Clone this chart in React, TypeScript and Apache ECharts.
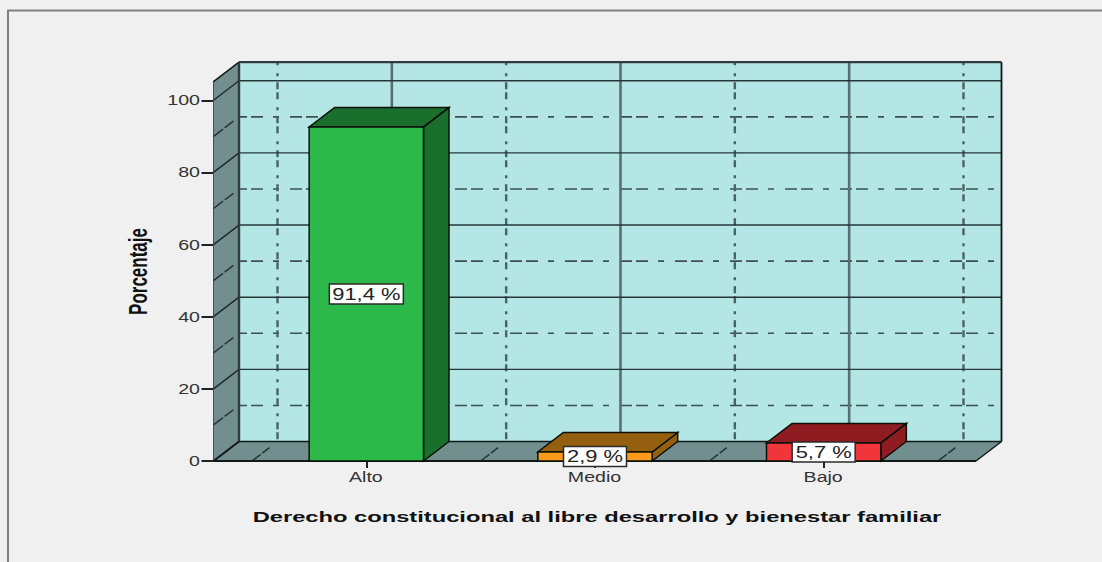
import React, { useEffect, useRef } from "react";
import * as echarts from "echarts";

const categories = ["Alto", "Medio", "Bajo"];
// Percentages printed on the bars
const barLabels = ["91,4 %", "2,9 %", "5,7 %"];
// Bar heights as drawn against the axis in the picture
const barHeights = [92.6, 2.5, 5.0];
const frontColors = ["#2db84a", "#fb9a1b", "#f0353b"];
const topColors = ["#1b6f2d", "#94600f", "#8f1c20"];
const majorTicks = [0, 20, 40, 60, 80, 100];
const minorTicks = [10, 30, 50, 70, 90];
const yTitle = "Porcentaje";
const xTitle = "Derecho constitucional al libre desarrollo y bienestar familiar";

const FONT = "'Liberation Sans', Arial, sans-serif";
const DX = 25.5;
const DY = -19.5;
const PAD_L = 38.5;
const PAD_R = 38;
const TOP_VALUE = 105.15;

const line = (x1: number, y1: number, x2: number, y2: number, stroke: string, lineWidth: number, lineDash?: number[], lineDashOffset = 0) => ({
  type: "line",
  shape: { x1, y1, x2, y2 },
  style: { stroke, lineWidth, lineDash: lineDash || null, lineDashOffset, fill: null },
});
const poly = (points: number[][], fill: string, stroke: string, lineWidth: number) => ({
  type: "polygon",
  shape: { points },
  style: { fill, stroke, lineWidth, lineJoin: "miter" },
});
const label = (text: string, x: number, y: number, fontSize: number, scaleX: number, fill: string, bold = false, extra: any = {}) => ({
  type: "text",
  x,
  y,
  scaleX,
  ...extra,
  style: { text, fontFamily: FONT, fontSize, fontWeight: bold ? "bold" : "normal", fill, align: "center", verticalAlign: "middle" },
});

const renderScene = (_: any, api: any) => {
  const band = api.size([1, 0])[0];
  const x0 = api.coord([0, 0])[0] - band / 2;
  const y0 = api.coord([0, 0])[1];
  const yTop = api.coord([0, TOP_VALUE])[1];
  const L = x0 - PAD_L;
  const R = x0 + band * categories.length + PAD_R;
  const wall = "#b4e6e6";
  const side = "#738e8e";
  const grid = "#3c5052";
  const edge = "#101818";
  const children: any[] = [];
  children.push(poly([[L + DX, yTop + DY], [R + DX, yTop + DY], [R + DX, y0 + DY], [L + DX, y0 + DY]], wall, "none", 0));
  minorTicks.forEach((v) => {
    const y = api.coord([0, v])[1] + DY;
    children.push(line(L + DX, y, R + DX, y, grid, 1.6, [12, 4, 12, 10, 6, 11], 4));
  });
  categories.forEach((_c, i) => {
    const x = api.coord([i, 0])[0] + DX;
    children.push(line(x, yTop + DY, x, y0 + DY, "#587072", 2.6));
  });
  for (let i = 0; i <= categories.length; i++) {
    const x = x0 + band * i + DX;
    children.push(line(x, yTop + DY, x, y0 + DY, "#4a6264", 2.4, [3, 6, 7, 3, 7, 8], 23));
  }
  majorTicks.slice(1).forEach((v) => {
    const y = api.coord([0, v])[1] + DY;
    children.push(line(L + DX, y, R + DX, y, "#263638", 1.4));
  });
  children.push(poly([[L, y0], [L + DX, y0 + DY], [L + DX, yTop + DY], [L, yTop]], side, "none", 0));
  children.push(poly([[L, y0], [R, y0], [R + DX, y0 + DY], [L + DX, y0 + DY]], side, "none", 0));
  minorTicks.forEach((v) => {
    const y = api.coord([0, v])[1];
    children.push(line(L, y, L + DX, y + DY, "#263436", 1.5, [12, 2, 11, 40]));
  });
  majorTicks.slice(1).forEach((v) => {
    const y = api.coord([0, v])[1];
    children.push(line(L, y, L + DX, y + DY, "#1e2a2c", 1.5));
  });
  for (let i = 0; i <= categories.length; i++) {
    const x = x0 + band * i;
    children.push(line(x, y0, x + DX, y0 + DY, "#263436", 1.5, [11, 2, 9, 40]));
  }
  children.push(line(L, yTop, L + DX, yTop + DY, edge, 1.5));
  children.push(line(L + DX, yTop + DY, R + DX, yTop + DY, "#303c3c", 2.2));
  children.push(line(L + DX, yTop + DY, L + DX, y0 + DY, "#303c3c", 2.4));
  children.push(line(R + DX, yTop + DY, R + DX, y0 + DY, edge, 1.8));
  children.push(line(L + DX, y0 + DY, R + DX, y0 + DY, edge, 1.5));
  children.push(line(L, y0, L + DX, y0 + DY, edge, 2));
  children.push(line(R, y0, R + DX, y0 + DY, edge, 1.5));
  children.push(line(L, y0, R, y0, edge, 2));
  return { type: "group", children };
};

const renderBar = (params: any, api: any) => {
  const i = params.dataIndex;
  const cx = api.value(0);
  const p = api.coord([cx, api.value(1)]);
  const b = api.coord([cx, 0]);
  const w = api.size([1, 0])[0] * 0.5;
  const l = p[0] - w / 2;
  const r = p[0] + w / 2;
  const stroke = "#081008";
  return {
    type: "group",
    children: [
      poly([[r, p[1]], [r + DX, p[1] + DY], [r + DX, b[1] + DY], [r, b[1]]], topColors[i], stroke, 1.5),
      poly([[l, p[1]], [r, p[1]], [r + DX, p[1] + DY], [l + DX, p[1] + DY]], topColors[i], stroke, 1.5),
      poly([[l, p[1]], [r, p[1]], [r, b[1]], [l, b[1]]], frontColors[i], stroke, 1.5),
    ],
  };
};

const renderBarLabel = (params: any, api: any) => {
  const i = params.dataIndex;
  const cx = api.value(0);
  const mid = api.coord([cx, api.value(1) / 2]);
  const w = barLabels[i].length === 6 ? 74 : 63;
  const h = 20;
  return {
    type: "group",
    children: [
      { type: "rect", shape: { x: mid[0] - w / 2, y: mid[1] - h / 2, width: w, height: h }, style: { fill: "#ffffff", stroke: "#2a2a2a", lineWidth: 1.5 } },
      label(barLabels[i], mid[0], mid[1] + 0.5, 16, 1.37, "#222222"),
    ],
  };
};

const renderTexts = (_: any, api: any) => {
  const children: any[] = [];
  const tickRight = api.coord([0, 0])[0] - api.size([1, 0])[0] / 2 - PAD_L - 13.5;
  majorTicks.forEach((v) => {
    const y = api.coord([0, v])[1];
    const s = String(v);
    children.push({
      type: "text",
      x: tickRight,
      y: y + 0.5,
      scaleX: 1.4,
      style: { text: s, fontFamily: FONT, fontSize: 14, fill: "#333333", align: "right", verticalAlign: "middle" },
    });
  });
  categories.forEach((c, i) => {
    const p = api.coord([i, 0]);
    children.push(label(c, p[0] - 0.5, p[1] + 16.5, 14, 1.4, "#333333"));
  });
  children.push(label(xTitle, 597, 516.5, 15, 1.58, "#111111", true));
  children.push(label(yTitle, 138, 271.5, 17, 1, "#111111", true, { scaleY: 1.5, rotation: Math.PI / 2 }));
  return { type: "group", children };
};

export default function App() {
  const ref = useRef<HTMLDivElement>(null);
  useEffect(() => {
    const chart = echarts.init(ref.current!, null, { renderer: "svg" });
    chart.setOption({
      animation: false,
      backgroundColor: "#f0f0f0",
      grid: { left: 252, width: 686, top: 81.7, height: 379.3, containLabel: false },
      xAxis: {
        type: "category",
        data: categories,
        axisLine: { show: true, lineStyle: { color: "#101818", width: 2 } },
        axisTick: { show: true, alignWithLabel: true, length: 7, lineStyle: { color: "#222222", width: 2 } },
        axisLabel: { show: false },
        splitLine: { show: false },
      },
      yAxis: {
        type: "value",
        min: 0,
        max: TOP_VALUE,
        offset: PAD_L,
        axisLine: { show: true, onZero: false, lineStyle: { color: "#101818", width: 2 } },
        axisTick: { show: true, length: 12, customValues: majorTicks, lineStyle: { color: "#222222", width: 2 } },
        axisLabel: { show: false },
        splitLine: { show: false },
      },
      graphic: [
        { type: "line", shape: { x1: 7, y1: 10.5, x2: 1102, y2: 10.5 }, style: { stroke: "#808080", lineWidth: 2 } },
        { type: "line", shape: { x1: 8, y1: 10, x2: 8, y2: 562 }, style: { stroke: "#808080", lineWidth: 2 } },
      ],
      series: [
        { type: "custom", coordinateSystem: "cartesian2d", z: 1, data: [[0, 0]], renderItem: renderScene },
        { type: "custom", coordinateSystem: "cartesian2d", z: 3, data: barHeights.map((h, i) => [i, h]), renderItem: renderBar },
        { type: "custom", coordinateSystem: "cartesian2d", z: 4, data: barHeights.map((h, i) => [i, h]), renderItem: renderBarLabel },
        { type: "custom", coordinateSystem: "cartesian2d", z: 5, data: [[0, 0]], renderItem: renderTexts },
      ],
    });
    return () => chart.dispose();
  }, []);
  return <div ref={ref} style={{ position: "absolute", left: 0, top: 0, width: 1102, height: 562 }} />;
}
